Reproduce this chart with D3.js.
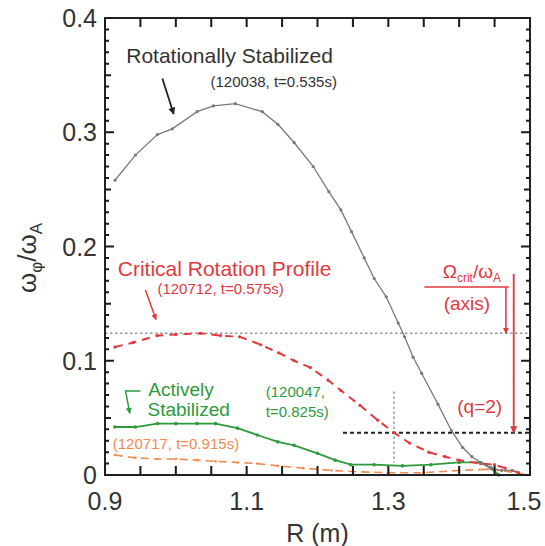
<!DOCTYPE html>
<html><head><meta charset="utf-8">
<script src="https://cdn.jsdelivr.net/npm/d3@7/dist/d3.min.js"></script>
<style>
body{margin:0;background:#fff;}
text{font-family:"Liberation Sans",Arial,Helvetica,sans-serif;}
</style></head>
<body><svg id="c" width="545" height="546"></svg>
<script>
// ---- data ----
const rotR = [0.914,0.943,0.974,0.995,1.03,1.053,1.084,1.122,1.144,1.167,1.194,1.216,1.233,1.248,1.266,1.280,1.297,1.314,1.323,1.335,1.347,1.37,1.389,1.405,1.418,1.433,1.445,1.46,1.475];
const rotV = [0.258,0.280,0.298,0.303,0.318,0.323,0.325,0.318,0.307,0.291,0.270,0.248,0.232,0.213,0.190,0.172,0.156,0.133,0.121,0.103,0.089,0.062,0.039,0.024,0.016,0.010,0.006,0.004,0.004];
const critR = [0.914,0.94,0.974,1.0,1.035,1.063,1.09,1.12,1.145,1.167,1.19,1.215,1.233,1.26,1.285,1.308,1.33,1.357,1.38,1.40,1.43,1.45,1.465,1.484];
const critV = [0.112,0.116,0.122,0.123,0.124,0.122,0.121,0.114,0.107,0.100,0.094,0.083,0.074,0.061,0.048,0.037,0.028,0.020,0.016,0.013,0.010,0.009,0.006,0.002];
const actR = [0.914,0.943,0.974,1.0,1.03,1.056,1.087,1.115,1.144,1.167,1.2,1.225,1.247,1.28,1.32,1.36,1.40,1.43,1.445,1.456];
const actV = [0.042,0.042,0.045,0.045,0.045,0.045,0.041,0.035,0.029,0.026,0.019,0.013,0.009,0.009,0.008,0.009,0.011,0.011,0.006,0.0];
const orgR = [0.914,0.943,0.974,1.0,1.03,1.056,1.087,1.115,1.144,1.18,1.22,1.25,1.3,1.35,1.40,1.44,1.47,1.495];
const orgV = [0.0175,0.015,0.014,0.014,0.013,0.012,0.011,0.010,0.008,0.006,0.004,0.003,0.002,0.002,0.004,0.005,0.003,0.0];
const xTickLabels = [0.9,1.1,1.3,1.5];
const yTickLabels = [0,0.1,0.2,0.3,0.4];
const omegaCritAxis = 0.124;   // Ω_crit/ω_A at axis
const omegaCritQ2 = 0.037;     // at q=2
const rQ2 = 1.308;

// ---- layout ----
const svg = d3.select("#c");
const L=105,T=18,W=425,H=457;
const x = d3.scaleLinear().domain([0.9,1.5]).range([L,L+W]);
const y = d3.scaleLinear().domain([0,0.4]).range([T+H,T]);
const RED="#e2383e", GREEN="#2e9a3c", ORANGE="#f2894e", GREY="#7a7a7a";

// series
const line = d3.line().x(d=>x(d[0])).y(d=>y(d[1]));
function series(R,V,color,width,dash,msize){
  const pts = R.map((r,i)=>[r,V[i]]);
  svg.append("path").datum(pts).attr("d",line).attr("fill","none").attr("stroke",color)
    .attr("stroke-width",width).attr("stroke-dasharray",dash);
  svg.append("g").selectAll("circle").data(pts).join("circle")
    .attr("cx",d=>x(d[0])).attr("cy",d=>y(d[1])).attr("r",msize).attr("fill",color);
}

// reference lines
svg.append("line").attr("x1",x(0.9)).attr("x2",x(1.5)).attr("y1",y(omegaCritAxis)).attr("y2",y(omegaCritAxis))
  .attr("stroke","#999").attr("stroke-width",1.5).attr("stroke-dasharray","2.5,2.5");
svg.append("line").attr("x1",x(1.236)).attr("x2",x(1.5)).attr("y1",y(omegaCritQ2)).attr("y2",y(omegaCritQ2))
  .attr("stroke","#222").attr("stroke-width",1.8).attr("stroke-dasharray","4,3");
svg.append("line").attr("x1",x(rQ2)).attr("x2",x(rQ2)).attr("y1",y(0.073)).attr("y2",y(0.011))
  .attr("stroke","#999").attr("stroke-width",1.5).attr("stroke-dasharray","2.5,2.5");

series(orgR,orgV,ORANGE,1.6,"8,5",1.3);
series(actR,actV,GREEN,1.8,null,1.8);
series(critR,critV,RED,2,"8,6",1.6);
series(rotR,rotV,GREY,1.3,null,1.6);

// frame
svg.append("rect").attr("x",L).attr("y",T).attr("width",W).attr("height",H)
  .attr("fill","none").attr("stroke","#222").attr("stroke-width",2);

// ticks (inward)
const xMinor = d3.range(0.9,1.5001,0.05);
const yMinor = d3.range(0,0.4001,0.01);
let td = "";
xMinor.forEach(v=>{
  const px = x(v);
  td += `M${px},${y(0)}V${y(0)-9}M${px},${y(0.4)}V${y(0.4)+9}`;
});
yMinor.forEach((v,i)=>{
  const len = (i%10===0)?9:(i%5===0?6:4);
  const py = y(v);
  td += `M${x(0.9)},${py}H${x(0.9)+len}M${x(1.5)},${py}H${x(1.5)-len}`;
});
svg.append("path").attr("d",td).attr("fill","none").attr("stroke","#1a1a1a").attr("stroke-width",2);

// tick labels
svg.append("g").selectAll("text").data(xTickLabels).join("text")
  .attr("x",d=>Math.min(x(d),524)).attr("y",T+H+35).attr("text-anchor","middle")
  .attr("font-size",25).attr("fill","#333").text(d=>d.toFixed(1));
svg.append("g").selectAll("text").data(yTickLabels).join("text")
  .attr("x",L-8).attr("y",d=>y(d)+9).attr("text-anchor","end")
  .attr("font-size",25).attr("fill","#333").text(d=>d===0?"0":d.toFixed(1));

// axis titles
svg.append("text").attr("x",x(1.2)).attr("y",T+H+67).attr("text-anchor","middle")
  .attr("font-size",25).attr("fill","#333").text("R (m)");
const yl = svg.append("text").attr("transform",`translate(36,258) rotate(-90)`).attr("text-anchor","middle")
  .attr("font-size",26).attr("fill","#333");
yl.append("tspan").text("ω");
yl.append("tspan").attr("font-size",17).attr("dy",6).text("φ");
yl.append("tspan").attr("dy",-6).text("/ω");
yl.append("tspan").attr("font-size",17).attr("dy",6).text("A");

// arrowheads
const defs = svg.append("defs");
function marker(id,color){
  defs.append("marker").attr("id",id).attr("viewBox","0 0 10 10").attr("refX",9).attr("refY",5)
   .attr("markerWidth",4).attr("markerHeight",4).attr("orient","auto")
   .append("path").attr("d","M0,0L10,5L0,10z").attr("fill",color);
}
marker("ak","#222");marker("ar",RED);marker("ag",GREEN);
function arrow(x1,y1,x2,y2,color,m,w){
  svg.append("line").attr("x1",x(x1)).attr("y1",y(y1)).attr("x2",x(x2)).attr("y2",y(y2))
   .attr("stroke",color).attr("stroke-width",w||1.5).attr("marker-end",`url(#${m})`);
}

// annotations: rotationally stabilized
svg.append("text").attr("x",x(0.930)).attr("y",y(0.361)).attr("font-size",21).attr("fill","#333").text("Rotationally Stabilized");
svg.append("text").attr("x",x(1.049)).attr("y",y(0.340)).attr("font-size",15).attr("fill","#333").text("(120038, t=0.535s)");
arrow(0.981,0.347,0.997,0.316,"#222","ak",1.8);

// critical rotation
svg.append("text").attr("x",x(0.918)).attr("y",y(0.174)).attr("font-size",21).attr("fill",RED).text("Critical Rotation Profile");
svg.append("text").attr("x",x(0.974)).attr("y",y(0.158)).attr("font-size",15).attr("fill",RED).text("(120712, t=0.575s)");
arrow(0.957,0.162,0.972,0.136,RED,"ar",1.5);

// actively stabilized (two-line label)
const asl = svg.append("text").attr("font-size",19).attr("fill",GREEN);
asl.append("tspan").attr("x",x(0.961)).attr("y",y(0.0695)).text("Actively");
asl.append("tspan").attr("x",x(0.960)).attr("y",y(0.0515)).text("Stabilized");
svg.append("path").attr("d",d3.line()([[x(0.950),y(0.0735)],[x(0.929),y(0.0735)],[x(0.935),y(0.054)]]))
  .attr("fill","none").attr("stroke",GREEN).attr("stroke-width",1.5).attr("marker-end","url(#ag)");
const asn = svg.append("text").attr("font-size",15).attr("fill",GREEN);
asn.append("tspan").attr("x",x(1.127)).attr("y",y(0.068)).text("(120047,");
asn.append("tspan").attr("x",x(1.127)).attr("y",y(0.051)).text("t=0.825s)");

// orange
svg.append("text").attr("x",x(0.911)).attr("y",y(0.023)).attr("font-size",15).attr("fill",ORANGE).text("(120717, t=0.915s)");

// omega crit annotation
const oc = svg.append("text").attr("x",x(1.418)).attr("y",y(0.172)).attr("text-anchor","middle").attr("font-size",19).attr("fill",RED);
oc.append("tspan").text("Ω");
oc.append("tspan").attr("font-size",12).attr("dy",4).text("crit");
oc.append("tspan").attr("dy",-4).text("/ω");
oc.append("tspan").attr("font-size",12).attr("dy",4).text("A");
svg.append("line").attr("x1",x(1.351)).attr("x2",x(1.470)).attr("y1",y(0.1645)).attr("y2",y(0.1645)).attr("stroke",RED).attr("stroke-width",1.5);
svg.append("text").attr("x",x(1.411)).attr("y",y(0.144)).attr("text-anchor","middle").attr("font-size",19).attr("fill",RED).text("(axis)");
arrow(1.466,0.1645,1.466,omegaCritAxis,RED,"ar",1.5);
arrow(1.477,0.176,1.477,omegaCritQ2,RED,"ar",1.8);
svg.append("text").attr("x",x(1.429)).attr("y",y(0.054)).attr("text-anchor","middle").attr("font-size",19).attr("fill",RED).text("(q=2)");
</script></body></html>
